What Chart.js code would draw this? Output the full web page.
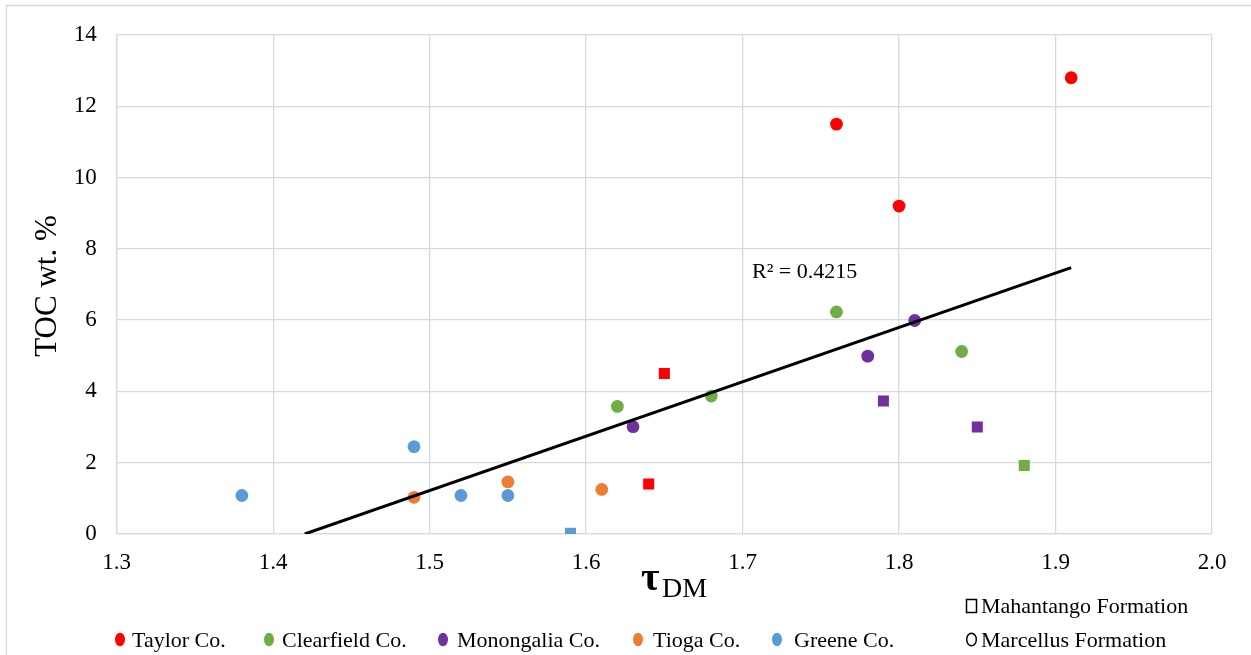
<!DOCTYPE html>
<html lang="en">
<head>
    <meta charset="UTF-8">
    <title>TOC vs tau DM</title>
    <script src="https://cdn.jsdelivr.net/npm/chart.js"></script>
    <style>
        body { margin: 0; background: #fff; }
        canvas { display: block; }
    </style>
</head>
<body>
    <canvas id="tocChart" width="1251" height="655"></canvas>

    <script>
        // axis ticks
        const xTicks = [1.3, 1.4, 1.5, 1.6, 1.7, 1.8, 1.9, 2.0];
        const yTicks = [0, 2, 4, 6, 8, 10, 12, 14];

        // samples per county: tau DM, TOC wt.% and formation (M = Mahantango, Mc = Marcellus)
        const taylorTau = [1.76, 1.80, 1.91, 1.65, 1.64];
        const taylorToc = [11.5, 9.2, 12.8, 4.5, 1.4];
        const taylorFm  = ['Mc', 'Mc', 'Mc', 'M', 'M'];

        const clearfieldTau = [1.62, 1.68, 1.76, 1.84, 1.88];
        const clearfieldToc = [3.58, 3.87, 6.23, 5.12, 1.92];
        const clearfieldFm  = ['Mc', 'Mc', 'Mc', 'Mc', 'M'];

        const monongaliaTau = [1.63, 1.78, 1.81, 1.79, 1.85];
        const monongaliaToc = [3.01, 4.99, 5.99, 3.73, 3.0];
        const monongaliaFm  = ['Mc', 'Mc', 'Mc', 'M', 'M'];

        const tiogaTau = [1.49, 1.55, 1.61];
        const tiogaToc = [1.03, 1.46, 1.25];
        const tiogaFm  = ['Mc', 'Mc', 'Mc'];

        const greeneTau = [1.38, 1.49, 1.52, 1.55, 1.59];
        const greeneToc = [1.08, 2.45, 1.08, 1.08, 0.02];
        const greeneFm  = ['Mc', 'Mc', 'Mc', 'Mc', 'M'];

        const counties = ['Taylor Co.', 'Clearfield Co.', 'Monongalia Co.', 'Tioga Co.', 'Greene Co.'];
        const countyColors = ['#ff0000', '#70ad47', '#7030a0', '#ed7d31', '#5b9bd5'];
        const formations = ['Mahantango Formation', 'Marcellus Formation'];
        const rSquaredLabel = 'R² = 0.4215';

        const serif = '"Liberation Serif", "Times New Roman", serif';

        const groups = [
            [taylorTau, taylorToc, taylorFm],
            [clearfieldTau, clearfieldToc, clearfieldFm],
            [monongaliaTau, monongaliaToc, monongaliaFm],
            [tiogaTau, tiogaToc, tiogaFm],
            [greeneTau, greeneToc, greeneFm]
        ];

        const countyDatasets = groups.map(([tau, toc, fm], i) => ({
            label: counties[i],
            data: tau.map((x, j) => ({ x: x, y: toc[j], fm: fm[j] })),
            backgroundColor: countyColors[i],
            borderColor: countyColors[i],
            borderWidth: 0,
            pointStyle: ctx => ctx.raw && ctx.raw.fm === 'M' ? 'rect' : 'circle',
            pointRadius: ctx => ctx.raw && ctx.raw.fm === 'M' ? 7.8 : 6.4,
            order: 1
        }));

        // linear least-squares fit over every sample
        const allX = groups.flatMap(g => g[0]);
        const allY = groups.flatMap(g => g[1]);
        const n = allX.length;
        const mx = allX.reduce((a, b) => a + b, 0) / n;
        const my = allY.reduce((a, b) => a + b, 0) / n;
        let sxy = 0, sxx = 0;
        for (let i = 0; i < n; i++) {
            sxy += (allX[i] - mx) * (allY[i] - my);
            sxx += (allX[i] - mx) * (allX[i] - mx);
        }
        const slope = sxy / sxx;
        const intercept = my - slope * mx;
        const fitStart = Math.max(Math.min(...allX), -intercept / slope);
        const fitEnd = Math.max(...allX);

        const trendDataset = {
            type: 'line',
            label: 'Linear fit',
            data: [
                { x: fitStart, y: slope * fitStart + intercept },
                { x: fitEnd, y: slope * fitEnd + intercept }
            ],
            borderColor: '#000',
            borderWidth: 3,
            pointRadius: 0,
            fill: false,
            order: 0
        };

        // frame, axis titles, trendline label and legend
        const annotations = {
            id: 'annotations',
            beforeDraw(chart) {
                const ctx = chart.ctx;
                ctx.save();
                ctx.fillStyle = '#fff';
                ctx.fillRect(0, 0, chart.width, chart.height);
                ctx.strokeStyle = '#d9d9d9';
                ctx.lineWidth = 1.3;
                ctx.beginPath();
                ctx.moveTo(6.5, chart.height);
                ctx.lineTo(6.5, 5.5);
                ctx.lineTo(chart.width, 5.5);
                ctx.stroke();
                ctx.restore();
            },
            afterDraw(chart) {
                const ctx = chart.ctx;
                ctx.save();
                ctx.fillStyle = '#000';

                // y title
                ctx.save();
                ctx.translate(48, 286);
                ctx.rotate(-Math.PI / 2);
                ctx.font = '31px ' + serif;
                ctx.textAlign = 'center';
                ctx.textBaseline = 'middle';
                ctx.fillText('TOC wt. %', 0, 0);
                ctx.restore();

                // x title: tau with DM subscript
                ctx.textAlign = 'left';
                ctx.textBaseline = 'alphabetic';
                ctx.font = 'bold 40px ' + serif;
                ctx.fillText('τ', 641, 590);
                ctx.font = '28px ' + serif;
                ctx.fillText('DM', 662, 597);

                // R² label next to the fit line
                ctx.font = '22px ' + serif;
                ctx.fillText(rSquaredLabel, 752, 278);

                // county legend
                const dotX = [120, 269, 443, 638, 777];
                const textX = [132, 282, 457, 653, 794];
                counties.forEach((name, i) => {
                    ctx.fillStyle = countyColors[i];
                    ctx.beginPath();
                    ctx.ellipse(dotX[i], 639.5, 5, 6.8, 0, 0, Math.PI * 2);
                    ctx.fill();
                    ctx.fillStyle = '#000';
                    ctx.fillText(name, textX[i], 647);
                });

                // formation legend
                ctx.strokeStyle = '#000';
                ctx.lineWidth = 1.5;
                ctx.strokeRect(966.5, 599.5, 10, 13);
                ctx.beginPath();
                ctx.ellipse(971.5, 639.5, 4.8, 6.3, 0, 0, Math.PI * 2);
                ctx.stroke();
                ctx.fillText(formations[0], 981, 613);
                ctx.fillText(formations[1], 981, 647);

                ctx.restore();
            }
        };

        new Chart(document.getElementById('tocChart'), {
            type: 'scatter',
            data: { datasets: [trendDataset, ...countyDatasets] },
            plugins: [annotations],
            options: {
                responsive: false,
                animation: false,
                events: [],
                layout: { padding: { top: 35, right: 39, bottom: 0, left: 0 } },
                plugins: {
                    legend: { display: false },
                    tooltip: { enabled: false }
                },
                scales: {
                    x: {
                        type: 'linear',
                        min: xTicks[0],
                        max: xTicks[xTicks.length - 1],
                        afterBuildTicks: scale => { scale.ticks = xTicks.map(v => ({ value: v })); },
                        afterFit: scale => { scale.height = 121; },
                        grid: { color: '#d9d9d9', lineWidth: 1.3, drawTicks: false },
                        border: { color: '#d9d9d9', width: 1.3 },
                        ticks: {
                            padding: 15,
                            color: '#000',
                            font: { family: serif, size: 23 },
                            callback: v => v.toFixed(1)
                        }
                    },
                    y: {
                        type: 'linear',
                        min: yTicks[0],
                        max: yTicks[yTicks.length - 1],
                        afterBuildTicks: scale => { scale.ticks = yTicks.map(v => ({ value: v })); },
                        afterFit: scale => { scale.width = 116.7; },
                        grid: { color: '#d9d9d9', lineWidth: 1.3, drawTicks: false },
                        border: { color: '#d9d9d9', width: 1.3 },
                        ticks: {
                            padding: 20,
                            color: '#000',
                            font: { family: serif, size: 23 }
                        }
                    }
                }
            }
        });
    </script>
</body>
</html>
